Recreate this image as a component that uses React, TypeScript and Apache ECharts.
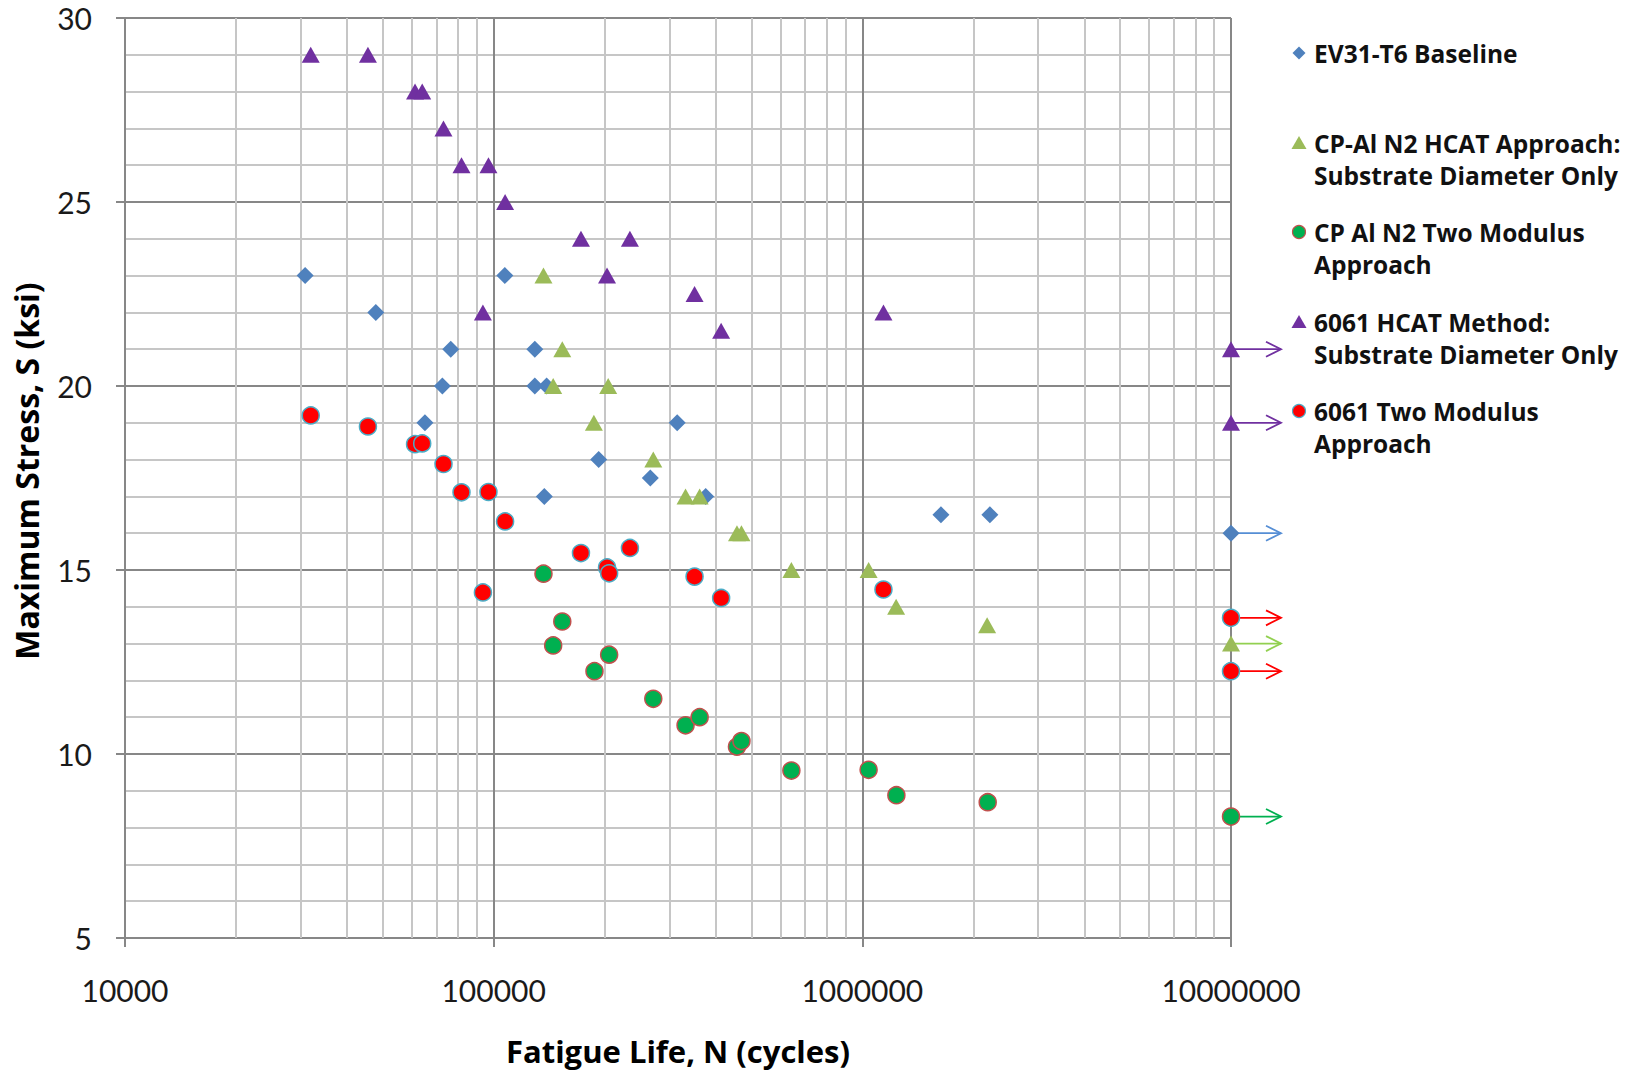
import React, { useEffect, useRef } from "react";
import * as echarts from "echarts";

// ---- Data ----
const ev31N = [30800, 47900, 65100, 72600, 76500, 107200, 129300, 129300, 139200, 137200, 192700, 266000, 314600, 375900, 1634000, 2218000, 10000000];
const ev31S = [23, 22, 19, 20, 21, 23, 21, 20, 20, 17, 18, 17.5, 19, 17, 16.5, 16.5, 16];

const cpHcatN = [136500, 153500, 145000, 204500, 187000, 271000, 331500, 362000, 457000, 470000, 642000, 1040000, 1235000, 2180000, 10000000];
const cpHcatS = [23, 21, 20, 20, 19, 18, 17, 17, 16, 16, 15, 15, 14, 13.5, 13];

const cpTwoModN = [136500, 153500, 145000, 205700, 187700, 271000, 331500, 362000, 457000, 470000, 642000, 1040000, 1237000, 2188000, 10000000];
const cpTwoModS = [14.9, 13.6, 12.95, 12.7, 12.25, 11.5, 10.78, 11.0, 10.2, 10.35, 9.55, 9.57, 8.88, 8.69, 8.3];

const al6061HcatN = [31900, 45600, 61200, 64000, 73100, 81800, 96800, 107400, 93500, 172500, 234200, 203000, 350700, 414000, 1141000, 10000000, 10000000];
const al6061HcatS = [29, 29, 28, 28, 27, 26, 26, 25, 22, 24, 24, 23, 22.5, 21.5, 22, 21, 19];

const al6061TwoModN = [31900, 45600, 61200, 64000, 73100, 81800, 96800, 107400, 93500, 172500, 234200, 203000, 205700, 350700, 414000, 1141000, 10000000, 10000000];
const al6061TwoModS = [19.2, 18.9, 18.42, 18.44, 17.88, 17.11, 17.12, 16.32, 14.39, 15.46, 15.6, 15.07, 14.91, 14.82, 14.24, 14.47, 13.7, 12.25];

const seriesNames = [
  "EV31-T6 Baseline",
  "CP-Al N2 HCAT Approach:\nSubstrate Diameter Only",
  "CP Al N2 Two Modulus\nApproach",
  "6061 HCAT Method:\nSubstrate Diameter Only",
  "6061 Two Modulus\nApproach",
];
const seriesN = [ev31N, cpHcatN, cpTwoModN, al6061HcatN, al6061TwoModN];
const seriesS = [ev31S, cpHcatS, cpTwoModS, al6061HcatS, al6061TwoModS];

const runoutLife = 10000000;
const xMin = 10000;
const xMax = 10000000;
const yMin = 5;
const yMax = 30;
const yInterval = 5;
const minorLogMultipliers = [2, 3, 4, 5, 6, 7, 8, 9];
const decades = [10000, 100000, 1000000];

// ---- Styles ----
const FONT = '"Open Sans", "Noto Sans", sans-serif';
const TICK_FONT = 'Lato, "Open Sans", sans-serif';
const styles = [
  { symbol: "diamond", size: 17, color: "#4F81BD", border: "#4F81BD", borderWidth: 0, arrow: "#558ED5" },
  { symbol: "triangle", size: [18, 16], color: "#9BBB59", border: "#9BBB59", borderWidth: 0, arrow: "#92D050" },
  { symbol: "circle", size: 17, color: "#00B050", border: "#C0504D", borderWidth: 1.5, arrow: "#00B050" },
  { symbol: "triangle", size: [18, 16], color: "#7030A0", border: "#7030A0", borderWidth: 0, arrow: "#7030A0" },
  { symbol: "circle", size: 17, color: "#FF0000", border: "#4BACC6", borderWidth: 1.5, arrow: "#FF0000" },
];

const MAJOR = "#878787";
const MINOR = "#c6c6c6";

function legendGraphic() {
  const rowsY = [53, 143, 232, 322, 411];
  const mx = 1299;
  const tx = 1314;
  const children: any[] = [];
  seriesNames.forEach((name, i) => {
    const st = styles[i];
    const cy = rowsY[i];
    if (st.symbol === "diamond") {
      children.push({
        type: "polygon",
        shape: { points: [[mx, cy - 6.5], [mx + 6.5, cy], [mx, cy + 6.5], [mx - 6.5, cy]] },
        style: { fill: st.color },
      });
    } else if (st.symbol === "triangle") {
      children.push({
        type: "polygon",
        shape: { points: [[mx, cy - 7], [mx + 7.5, cy + 6], [mx - 7.5, cy + 6]] },
        style: { fill: st.color },
      });
    } else {
      children.push({
        type: "circle",
        shape: { cx: mx, cy, r: 6.5 },
        style: { fill: st.color, stroke: st.border, lineWidth: 1.2 },
      });
    }
    children.push({
      type: "text",
      x: tx,
      y: cy - 16,
      style: {
        text: name,
        font: `bold 24.5px ${FONT}`,
        fill: "#111111",
        lineHeight: 32,
        verticalAlign: "top",
        align: "left",
      },
    });
  });
  return children;
}

export default function App() {
  const ref = useRef<HTMLDivElement>(null);

  useEffect(() => {
    if (!ref.current) return;
    const chart = echarts.init(ref.current, null, { renderer: "svg" });

    const minorX: number[] = [];
    decades.forEach((d) => minorLogMultipliers.forEach((m) => minorX.push(d * m)));

    const arrowData: any[] = [];
    seriesN.forEach((ns, si) => {
      ns.forEach((n, j) => {
        if (n >= runoutLife) arrowData.push([n, seriesS[si][j], si]);
      });
    });

    const scatterSeries = seriesNames.map((name, i) => ({
      name,
      type: "scatter",
      data: seriesN[i].map((n, j) => [n, seriesS[i][j]]),
      symbol: styles[i].symbol,
      symbolSize: styles[i].size,
      clip: false,
      z: 5,
      itemStyle: {
        color: styles[i].color,
        borderColor: styles[i].border,
        borderWidth: styles[i].borderWidth,
        opacity: 1,
      },
      emphasis: { disabled: true },
    }));

    chart.setOption({
      animation: false,
      backgroundColor: "#ffffff",
      textStyle: { fontFamily: FONT },
      grid: { left: 125, top: 18, width: 1106, height: 921, containLabel: false },
      xAxis: {
        type: "log",
        logBase: 10,
        min: xMin,
        max: xMax,
        axisLine: { show: true, lineStyle: { color: MAJOR, width: 2 } },
        axisTick: { show: true, length: 9, lineStyle: { color: MAJOR, width: 2 } },
        axisLabel: {
          formatter: (v: number) => String(Math.round(v)),
          fontSize: 30,
          fontFamily: TICK_FONT,
          color: "#1a1a1a",
          margin: 37,
        },
        splitLine: { show: true, lineStyle: { color: MAJOR, width: 2 } },
        name: "Fatigue Life, N (cycles)",
        nameLocation: "middle",
        nameGap: 97,
        nameTextStyle: { fontSize: 31, fontWeight: "bold", fontFamily: FONT, color: "#000000" },
      },
      yAxis: {
        type: "value",
        min: yMin,
        max: yMax,
        interval: yInterval,
        axisLine: { show: true, lineStyle: { color: MAJOR, width: 2 } },
        axisTick: { show: true, length: 9, lineStyle: { color: MAJOR, width: 2 } },
        axisLabel: { fontSize: 30, lineHeight: 26, fontFamily: TICK_FONT, color: "#1a1a1a", margin: 33 },
        splitLine: { show: true, lineStyle: { color: MAJOR, width: 2 } },
        minorTick: { show: false, splitNumber: 5 },
        minorSplitLine: { show: true, lineStyle: { color: MINOR, width: 2 } },
        name: "Maximum Stress, S (ksi)",
        nameLocation: "middle",
        nameGap: 83,
        nameRotate: 90,
        nameTextStyle: {
          fontSize: 32,
          fontWeight: "bold",
          fontFamily: FONT,
          color: "#000000",
          padding: [0, 0, 0, 14],
        },
      },
      series: [
        {
          name: "minor-x-grid",
          type: "scatter",
          data: [],
          silent: true,
          z: 1,
          markLine: {
            silent: true,
            symbol: ["none", "none"],
            label: { show: false },
            lineStyle: { color: MINOR, width: 2, type: "solid" },
            emphasis: { disabled: true },
            data: minorX.map((x) => ({ xAxis: x })),
          },
        },
        {
          name: "runout-arrows",
          type: "custom",
          data: arrowData,
          clip: false,
          silent: true,
          z: 3,
          renderItem: (_params: any, api: any) => {
            const p = api.coord([api.value(0), api.value(1)]);
            const color = styles[api.value(2)].arrow;
            const len = 50;
            const head = 15;
            const half = 7.5;
            return {
              type: "group",
              children: [
                {
                  type: "line",
                  shape: { x1: p[0], y1: p[1], x2: p[0] + len, y2: p[1] },
                  style: { stroke: color, lineWidth: 1.8 },
                },
                {
                  type: "polyline",
                  shape: {
                    points: [
                      [p[0] + len - head, p[1] - half],
                      [p[0] + len, p[1]],
                      [p[0] + len - head, p[1] + half],
                    ],
                  },
                  style: { stroke: color, fill: "none", lineWidth: 1.8 },
                },
              ],
            };
          },
        },
        ...scatterSeries,
      ],
      graphic: legendGraphic(),
    });

    return () => chart.dispose();
  }, []);

  return (
    <div
      ref={ref}
      style={{ position: "fixed", left: 0, top: 0, width: 1633, height: 1071, background: "#fff" }}
    />
  );
}
